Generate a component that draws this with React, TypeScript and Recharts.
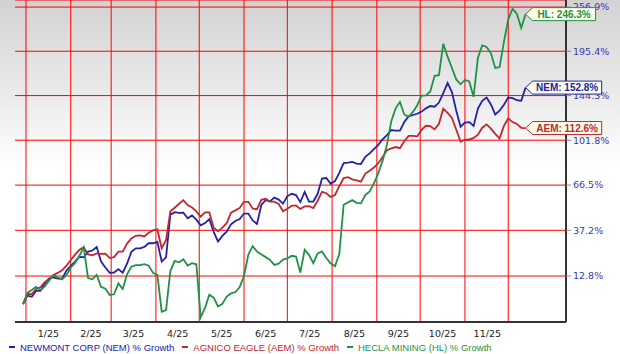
import React from 'react';
import { LineChart, Line, XAxis, YAxis, CartesianGrid, ReferenceLine, Legend } from 'recharts';

// days counted from Jan 1 2025
const days = [
  -2, 1, 4, 7, 10, 13, 16, 19, 22, 25, 28, 31, 34, 37, 40, 43, 46, 49, 52, 55,
  58, 61, 64, 67, 70, 73, 76, 79, 82, 85, 88, 91, 94, 97, 100, 103, 106, 109, 112, 115,
  118, 121, 124, 127, 130, 133, 136, 139, 142, 145, 148, 151, 154, 157, 160, 163, 166, 169, 172, 175,
  178, 181, 184, 187, 190, 193, 196, 199, 202, 205, 208, 211, 214, 217, 220, 223, 226, 229, 232, 235,
  238, 241, 244, 247, 250, 253, 256, 259, 262, 265, 268, 271, 274, 277, 280, 283, 286, 289, 292, 295,
  298, 301, 304, 307, 310, 313, 316, 319, 322, 325, 328, 331, 334, 337, 340, 343, 346,
];

const nemGrowth = [
  0, 3.7, 3.2, 5.8, 5.8, 9.2, 11.7, 12.1, 11.6, 11.5,
  15.4, 17.8, 20.0, 22.5, 22.2, 25.2, 25.8, 27.7, 20.0, 17.0,
  14.3, 14.5, 16.2, 14.4, 18.9, 25.1, 27.0, 27.0, 27.8, 29.8,
  29.8, 30.6, 20.0, 22.2, 46.7, 48.3, 47.8, 47.9, 44.4, 46.2,
  43.6, 40.1, 41.5, 43.9, 36.2, 30.8, 33.9, 36.4, 40.7, 42.8,
  44.0, 47.4, 47.4, 43.1, 41.0, 52.9, 56.1, 55.3, 57.8, 56.5,
  53.8, 58.7, 60.4, 59.5, 54.8, 61.7, 55.1, 55.2, 60.4, 71.2,
  71.6, 67.5, 69.4, 75.4, 82.9, 83.3, 83.9, 82.6, 82.3, 87.9,
  90.7, 94.2, 97.8, 102.6, 106.3, 110.8, 110.3, 110.3, 118.1, 123.5,
  124.8, 126.0, 128.1, 131.3, 133.6, 132.9, 137.1, 147.0, 158.0, 148.0,
  128.9, 113.8, 117.7, 118.1, 114.5, 131.0, 138.9, 142.3, 135.2, 125.3,
  129.0, 134.9, 142.3, 141.6, 139.5, 138.9, 152.8,
];

const aemGrowth = [
  0, 4.5, 4.4, 6.7, 7.5, 9.9, 11.2, 13.3, 14.3, 15.6,
  17.9, 20.8, 23.6, 26.2, 27.6, 23.7, 23.2, 24.3, 24.0, 24.1,
  21.8, 22.3, 25.2, 25.2, 29.6, 32.5, 34.0, 34.2, 33.6, 35.8,
  37.1, 37.7, 27.0, 31.6, 48.8, 51.1, 53.7, 56.1, 52.9, 51.2,
  48.8, 45.4, 48.2, 48.2, 38.7, 36.6, 38.8, 41.4, 47.9, 49.4,
  51.0, 55.0, 55.0, 50.6, 50.2, 56.3, 57.0, 55.1, 55.1, 53.6,
  48.9, 50.4, 52.4, 52.6, 50.3, 52.0, 52.1, 50.9, 55.7, 61.7,
  60.8, 58.2, 59.6, 65.7, 71.6, 72.2, 70.6, 69.9, 69.0, 74.9,
  77.1, 79.5, 82.9, 87.7, 93.3, 94.9, 96.0, 95.0, 100.9, 105.5,
  105.5, 105.2, 110.9, 114.7, 114.4, 111.4, 116.5, 131.0, 126.9, 122.0,
  111.1, 100.6, 102.0, 102.4, 103.8, 106.6, 112.9, 116.0, 112.1, 107.3,
  103.2, 114.5, 121.6, 118.1, 116.4, 112.8, 112.6,
];

const hlGrowth = [
  0, 4.9, 6.2, 7.7, 6.1, 7.9, 10.5, 13.2, 12.1, 11.2,
  13.2, 17.0, 19.3, 23.0, 27.5, 11.8, 11.2, 13.3, 7.7, 6.8,
  4.0, 4.3, 9.3, 6.7, 13.6, 17.4, 18.2, 18.2, 18.7, 17.9,
  14.3, 13.3, -3.2, -2.5, 15.2, 20.4, 19.6, 21.2, 18.0, 19.2,
  18.6, -5.5, -1.6, 4.1, 2.8, -1.0, 0.1, 3.3, 4.7, 5.3,
  7.6, 12.8, 23.6, 28.2, 25.2, 23.8, 22.3, 20.8, 18.3, 18.9,
  21.0, 21.6, 23.0, 22.6, 14.5, 26.2, 23.5, 19.2, 24.3, 25.3,
  21.8, 19.1, 17.6, 24.0, 53.0, 54.6, 56.1, 54.3, 54.0, 59.5,
  62.1, 67.8, 75.2, 84.9, 98.0, 119.0, 131.3, 137.6, 125.3, 123.0,
  127.8, 134.4, 144.2, 144.5, 148.6, 165.9, 166.7, 205.0, 188.6, 175.0,
  161.8, 156.4, 161.2, 159.5, 143.0, 187.2, 202.8, 200.8, 192.8, 175.0,
  176.0, 207.5, 238.3, 254.4, 246.5, 226.3, 246.3,
];

const monthStarts = [0, 31, 59, 90, 120, 151, 181, 212, 243, 273, 304, 334];
const monthMids = [15.5, 45, 74.5, 105, 135.5, 166, 196.5, 227.5, 258, 288.5, 319.5];
const monthLabels = ['1/25', '2/25', '3/25', '4/25', '5/25', '6/25', '7/25', '8/25', '9/25', '10/25', '11/25'];
const yTickPcts = [12.8, 37.2, 66.5, 101.8, 144.3, 195.4, 256.9];

const series = [
  { key: 'NEM', name: 'NEWMONT CORP (NEM) % Growth', color: '#2222a8', values: nemGrowth },
  { key: 'AEM', name: 'AGNICO EAGLE (AEM) % Growth', color: '#c1272d', values: aemGrowth },
  { key: 'HL', name: 'HECLA MINING (HL) % Growth', color: '#1f9247', values: hlGrowth },
];

// growth is plotted as 1 + g/100 on a log axis
const data = days.map((d, i) => ({
  day: d,
  NEM: 1 + nemGrowth[i] / 100,
  AEM: 1 + aemGrowth[i] / 100,
  HL: 1 + hlGrowth[i] / 100,
}));

const yTicks = yTickPcts.map((p) => 1 + p / 100);
const last = days.length - 1;
const labelFont = '"Liberation Sans", Arial, sans-serif';
const axisFont = '"DejaVu Sans", Verdana, sans-serif';
const gridColor = '#ff0000';

const makeEndLabel = (s: typeof series[number]) => (props: any) => {
  const { x, y, index } = props;
  if (index !== last) return null;
  const text = `${s.key}: ${s.values[index].toFixed(1)}%`;
  const w = text.length * 6.1 + 6;
  const h = 13;
  const x0 = x + 3;
  return (
    <g>
      <path
        d={`M${x},${y} L${x0 + 4},${y - h / 2} L${x0 + w},${y - h / 2} L${x0 + w},${y + h / 2} L${x0 + 4},${y + h / 2} Z`}
        fill="#fcfce9"
        stroke={s.color}
        strokeWidth={1}
      />
      <text
        x={x0 + 4 + (w - 4) / 2}
        y={y}
        dy="0.36em"
        textAnchor="middle"
        fill={s.color}
        fontSize={10}
        fontWeight="bold"
        fontFamily={labelFont}
      >
        {text}
      </text>
    </g>
  );
};

const renderLegend = () => (
  <div style={{ display: 'flex', alignItems: 'center', paddingLeft: 9, height: 14, fontFamily: labelFont, fontSize: 9.5 }}>
    {series.map((s) => (
      <div key={s.key} style={{ display: 'flex', alignItems: 'center', marginRight: 8, color: s.color, whiteSpace: 'nowrap' }}>
        <span style={{ display: 'inline-block', width: 6, height: 2, background: s.color, marginRight: 5 }} />
        {s.name}
      </div>
    ))}
  </div>
);

export default function App() {
  return (
    <div
      style={{
        position: 'fixed',
        left: 0,
        top: 0,
        width: 620,
        height: 354,
        background: 'linear-gradient(#d2d2d2 0%, #ffffff 48%)',
      }}
    >
      <LineChart width={620} height={354} data={data} margin={{ top: 0, right: 0, left: 15, bottom: 0 }}>
        <CartesianGrid vertical={false} stroke={gridColor} />
        {monthStarts.map((m) => (
          <ReferenceLine key={m} x={m} stroke={gridColor} />
        ))}
        <XAxis
          type="number"
          dataKey="day"
          domain={[-7.6, 374]}
          allowDataOverflow
          ticks={monthMids}
          interval={0}
          tickFormatter={(v: number) => monthLabels[monthMids.indexOf(v)] ?? ''}
          tickLine={false}
          height={18}
          axisLine={{ stroke: '#333', strokeWidth: 2 }}
          tick={{ fontSize: 9.5, fill: '#222', fontFamily: axisFont }}
        />
        <YAxis
          orientation="right"
          width={54}
          scale="log"
          domain={[0.9263, 3.679]}
          allowDataOverflow
          ticks={yTicks}
          interval={0}
          tickFormatter={(v: number) => `${((v - 1) * 100).toFixed(1)}%`}
          axisLine={{ stroke: '#333', strokeWidth: 2 }}
          tickLine={{ stroke: '#888' }}
          tickSize={5}
          tick={{ fontSize: 9.5, fill: '#3a3aaa', fontFamily: axisFont }}
        />
        <Legend verticalAlign="bottom" align="left" height={14} content={renderLegend} wrapperStyle={{ left: 0, width: 620, bottom: 0 }} />
        {series.map((s) => (
          <Line
            key={s.key}
            type="linear"
            dataKey={s.key}
            name={s.name}
            stroke={s.color}
            strokeWidth={1.8}
            dot={false}
            isAnimationActive={false}
            label={makeEndLabel(s)}
          />
        ))}
      </LineChart>
    </div>
  );
}
